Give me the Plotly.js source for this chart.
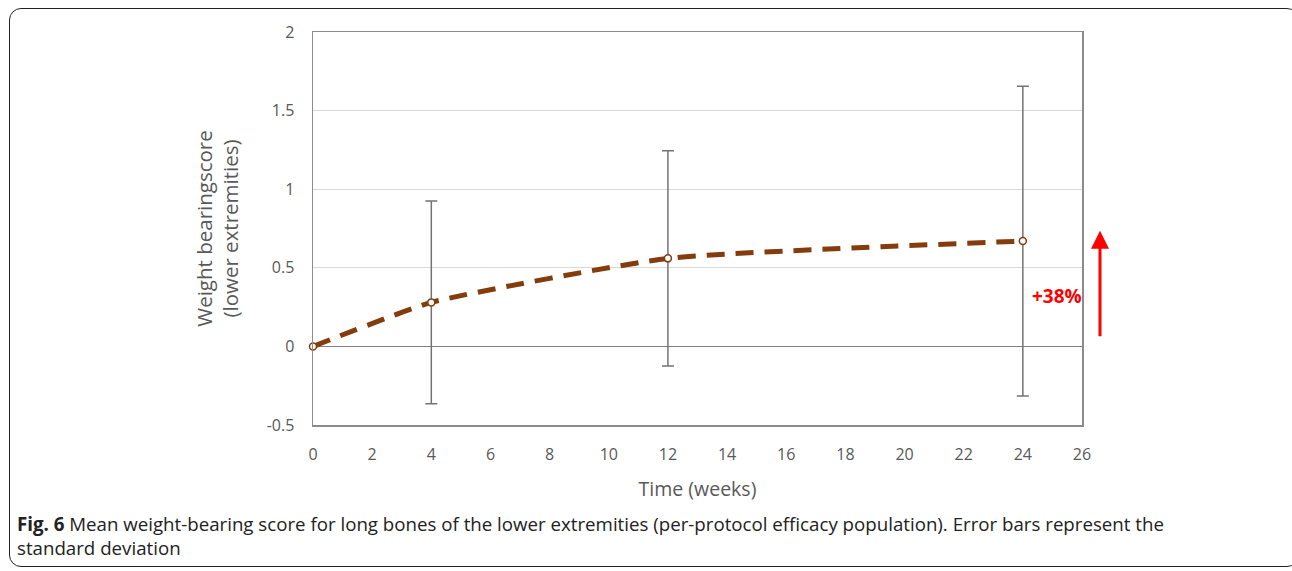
<!DOCTYPE html>
<html>
<head>
<meta charset="utf-8">
<script src="https://cdn.plot.ly/plotly-3.0.1.min.js"></script>
<style>
  html, body { margin: 0; padding: 0; background: #fff; }
  #wrap { position: relative; width: 1292px; height: 571px; overflow: hidden; }
  #frame { position: absolute; left: 9px; top: 8px; width: 1290px; height: 559px;
           border: 1.5px solid #222; border-radius: 12px; box-sizing: border-box; pointer-events: none; }
  #chart { position: absolute; left: 0; top: 0; width: 1292px; height: 571px; }
</style>
</head>
<body>
<div id="wrap">
  <div id="chart"></div>
  <div id="frame"></div>
</div>
<script>
// Data
const weeks = [0, 4, 12, 24];
const meanScore = [0, 0.28, 0.56, 0.67];
const sdScore = [0, 0.645, 0.685, 0.985];
const xTicks = [0, 2, 4, 6, 8, 10, 12, 14, 16, 18, 20, 22, 24, 26];
const yTicks = [-0.5, 0, 0.5, 1, 1.5, 2];
const changeLabel = "+38%";
const xTitle = "Time (weeks)";
const yTitle = "Weight bearingscore<br>(lower extremities)";
const captionBold = "Fig. 6";
const captionText = " Mean weight-bearing score for long bones of the lower extremities (per-protocol efficacy population). Error bars represent the<br>standard deviation";

const tickFont = { family: "Open Sans, sans-serif", size: 16, color: "#595959" };

const trace = {
  x: weeks,
  y: meanScore,
  type: "scatter",
  mode: "lines+markers",
  line: { color: "#843C0C", width: 5, dash: "18px,11px", shape: "spline", smoothing: 0.45 },
  marker: { symbol: "circle", size: 7, color: "#ffffff", line: { color: "#843C0C", width: 1.5 } },
  error_y: { type: "data", array: sdScore, visible: true, color: "#737373", thickness: 1.5, width: 6 },
  cliponaxis: false,
  hoverinfo: "x+y"
};

const layout = {
  width: 1292,
  height: 571,
  margin: { l: 313, r: 210, t: 32, b: 146 },
  paper_bgcolor: "rgba(0,0,0,0)",
  plot_bgcolor: "#ffffff",
  showlegend: false,
  xaxis: {
    range: [0, 26],
    tickvals: xTicks,
    ticktext: xTicks.map(String),
    ticks: "outside", ticklen: 14, tickcolor: "rgba(0,0,0,0)",
    showgrid: false,
    zeroline: false,
    showline: true, mirror: true, linecolor: "#8c8c8c", linewidth: 1.5,
    tickfont: tickFont,
    title: { text: xTitle, font: { family: "Open Sans, sans-serif", size: 19.5, color: "#595959" }, standoff: 18 }
  },
  yaxis: {
    range: [-0.5, 2],
    tickvals: yTicks,
    ticktext: yTicks.map(String),
    ticks: "outside", ticklen: 14, tickcolor: "rgba(0,0,0,0)",
    showgrid: true, gridcolor: "#d9d9d9", gridwidth: 1.2,
    zeroline: true, zerolinecolor: "#7f7f7f", zerolinewidth: 1.5,
    showline: true, mirror: true, linecolor: "#8c8c8c", linewidth: 1.5,
    tickfont: tickFont,
    title: { text: yTitle, font: { family: "Open Sans, sans-serif", size: 20.5, color: "#595959" }, standoff: 22 }
  },
  annotations: [
    {
      x: 1.0234, y: 0.494, xref: "paper", yref: "paper",
      ax: 0, ay: 107,
      text: "", showarrow: true, arrowhead: 2, arrowsize: 1.2, arrowwidth: 3, arrowcolor: "#ff0000"
    },
    {
      x: 25.15, y: 0.32, xref: "x", yref: "y",
      text: "<b>" + changeLabel + "</b>", showarrow: false,
      font: { family: "Open Sans, sans-serif", size: 19, color: "#ff0000" }
    },
    {
      x: -0.3875, y: -0.214, xref: "paper", yref: "paper",
      xanchor: "left", yanchor: "top", align: "left",
      text: "<b>" + captionBold + "</b>" + captionText, showarrow: false,
      font: { family: "Open Sans, sans-serif", size: 18.7, color: "#222222" }
    }
  ]
};

Plotly.newPlot("chart", [trace], layout, { displayModeBar: false, staticPlot: true });
</script>
</body>
</html>
